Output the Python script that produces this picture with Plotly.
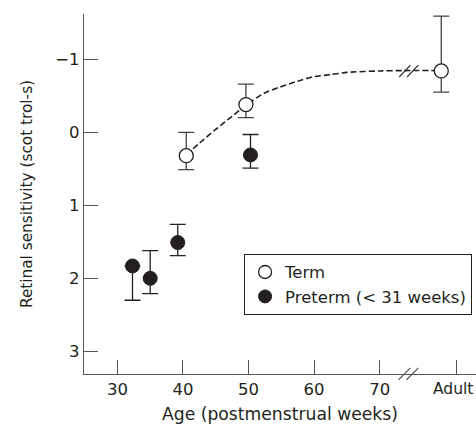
import plotly.graph_objects as go

# ---- data ----
x_tick_vals = [30, 40, 50, 60, 70, 81.7]
x_tick_text = ["30", "40", "50", "60", "70", ""]
adult_label = "Adult"
adult_pos = 81.7
y_tick_vals = [-1, 0, 1, 2, 3]

term_x = [40.5, 49.6, 79.4]
term_y = [0.32, -0.38, -0.84]
term_err_up = [0.32, 0.28, 0.75]      # towards more negative (upwards on reversed axis)
term_err_down = [0.19, 0.18, 0.29]

preterm_x = [32.3, 35.0, 39.2, 50.3]
preterm_y = [1.83, 2.0, 1.51, 0.31]
preterm_err_up = [0.0, 0.38, 0.25, 0.28]
preterm_err_down = [0.47, 0.21, 0.18, 0.18]

curve_x = [40.5, 42.5, 45, 47.5, 49.6, 52.3, 54.8, 57.5, 59.9, 62.5, 65, 70, 73.5, 79.4]
curve_y = [0.31, 0.15, -0.04, -0.22, -0.37, -0.53, -0.62, -0.70, -0.76, -0.79, -0.82, -0.84, -0.845, -0.845]

x_range = [24.9, 84.7]
y_range = [3.31, -1.62]
break_x = 75.0

INK = "#231f20"
AXIS = "#555555"
FONT = "DejaVu Sans"

fig = go.Figure()

fig.add_trace(go.Scatter(
    x=curve_x, y=curve_y, mode="lines",
    line=dict(color=INK, width=1.6, dash="6px,3px", shape="spline", smoothing=0.8),
    showlegend=False, hoverinfo="skip"))

fig.add_trace(go.Scatter(
    x=term_x, y=term_y, mode="markers",
    marker=dict(symbol="circle", size=14, color="white", line=dict(color=INK, width=1.3)),
    error_y=dict(type="data", symmetric=False, array=term_err_down, arrayminus=term_err_up,
                 color="#444444", thickness=1.3, width=8),
    showlegend=False))

fig.add_trace(go.Scatter(
    x=preterm_x, y=preterm_y, mode="markers",
    marker=dict(symbol="circle", size=14, color=INK, line=dict(color=INK, width=1)),
    error_y=dict(type="data", symmetric=False, array=preterm_err_down, arrayminus=preterm_err_up,
                 color="#222222", thickness=1.3, width=8),
    showlegend=False))

# legend entries
fig.add_trace(go.Scatter(x=[None], y=[None], mode="markers", name="Term",
    marker=dict(symbol="circle", size=13, color="white", line=dict(color=INK, width=1.3))))
fig.add_trace(go.Scatter(x=[None], y=[None], mode="markers", name="Preterm (< 31 weeks)",
    marker=dict(symbol="circle", size=13, color=INK, line=dict(color=INK, width=1))))

# break marks
def xp(v):
    return (v - x_range[0]) / (x_range[1] - x_range[0])

shapes = []
for dx in (-1.2, 0.0):
    # on the x axis (paper coords)
    shapes.append(dict(type="line", xref="paper", yref="paper",
                       x0=xp(break_x + dx - 0.9), x1=xp(break_x + dx + 0.9),
                       y0=-0.016, y1=0.017, line=dict(color=AXIS, width=1.2)))
    # on the fitted curve
    shapes.append(dict(type="line", xref="x", yref="y",
                       x0=break_x + dx - 0.8, x1=break_x + dx + 0.9,
                       y0=-0.76, y1=-0.92, line=dict(color=INK, width=1.2)))

fig.update_layout(
    width=476, height=427,
    margin=dict(l=84, r=0, t=14, b=53),
    paper_bgcolor="white", plot_bgcolor="white",
    font=dict(family=FONT, size=16, color=INK),
    shapes=shapes,
    annotations=[dict(x=adult_pos, xref="x", y=0, yref="paper", text=adult_label,
                      showarrow=False, xanchor="center", yanchor="top",
                      xshift=-3, yshift=-4, font=dict(size=15.5, color=INK))],
    legend=dict(x=0.99, y=0.334, xanchor="right", yanchor="top",
                bordercolor=INK, borderwidth=1, bgcolor="white",
                font=dict(size=16.5, color=INK), itemwidth=30, tracegroupgap=0),
    xaxis=dict(range=x_range, tickvals=x_tick_vals, ticktext=x_tick_text,
               ticks="inside", ticklen=14, tickcolor=AXIS, tickwidth=1.3,
               tickfont=dict(size=16.5),
               showline=True, linecolor=AXIS, linewidth=1.3,
               showgrid=False, zeroline=False, automargin=False,
               title=dict(text="Age (postmenstrual weeks)", font=dict(size=17.2), standoff=10)),
    yaxis=dict(range=y_range, tickvals=y_tick_vals,
               ticks="inside", ticklen=14, tickcolor=AXIS, tickwidth=1.3,
               tickfont=dict(size=16.5),
               showline=True, linecolor=AXIS, linewidth=1.3,
               showgrid=False, zeroline=False, automargin=False,
               title=dict(text="Retinal sensitivity (scot trol-s)", font=dict(size=15.3), standoff=18)),
)

fig.write_html("out.html", config={"displayModeBar": False},
               post_script="document.body.style.margin='0';document.body.style.padding='0';")
